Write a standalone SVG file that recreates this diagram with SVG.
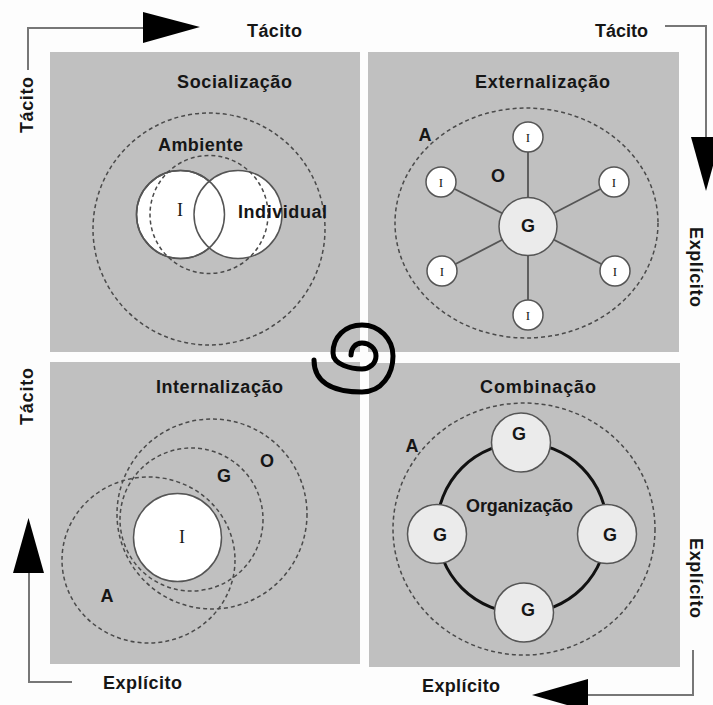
<svg xmlns="http://www.w3.org/2000/svg" width="713" height="705" viewBox="0 0 713 705">
<style>
.panel{fill:#c0c0c0}
.t{font-family:"Liberation Sans",Arial,sans-serif;font-weight:bold;font-size:18px;fill:#161616}
.m{text-anchor:middle}
.ser{font-family:"Liberation Serif","Times New Roman",serif;fill:#161616;text-anchor:middle}
.dash{fill:none;stroke:#4a4a4a;stroke-width:1.5;stroke-dasharray:4 3}
.wc{fill:#fff;stroke:#555;stroke-width:1.5}
.ol{fill:none;stroke:#555;stroke-width:1.5}
.gc{fill:#ebebeb;stroke:#555;stroke-width:1.5}
.spoke{stroke:#555;stroke-width:1.8}
.ax{fill:none;stroke:#777;stroke-width:2}
.head{fill:#000}
</style>
<rect width="713" height="705" fill="#fdfdfd"/>
<g id="panels">
<rect class="panel" x="50" y="52" width="310" height="300"/>
<rect class="panel" x="368" y="52" width="311" height="300"/>
<rect class="panel" x="50" y="362" width="310" height="302"/>
<rect class="panel" x="369" y="363" width="311" height="304"/>
</g>
<g id="socializacao">
<text class="t" x="177" y="88" textLength="115" lengthAdjust="spacing">Socialização</text>
<circle class="dash" cx="209" cy="229" r="116"/>
<circle class="wc" cx="180.5" cy="214.5" r="44"/>
<circle class="wc" cx="238" cy="214.5" r="44"/>
<circle class="ol" cx="180.5" cy="214.5" r="44"/>
<circle class="dash" cx="209" cy="214.5" r="59"/>
<text class="t" x="158" y="151" font-size="17" textLength="85" lengthAdjust="spacing">Ambiente</text>
<text class="ser" x="180" y="216" font-size="18">I</text>
<text class="t" x="238" y="218" font-size="17" textLength="89" lengthAdjust="spacing">Individual</text>
</g>
<g id="externalizacao">
<text class="t" x="475" y="88" textLength="135" lengthAdjust="spacing">Externalização</text>
<ellipse class="dash" cx="526.5" cy="223" rx="131.5" ry="115"/>
<g class="spokes">
<line class="spoke" x1="528" y1="226.5" x2="528" y2="137"/>
<line class="spoke" x1="528" y1="226.5" x2="441" y2="182"/>
<line class="spoke" x1="528" y1="226.5" x2="614" y2="182"/>
<line class="spoke" x1="528" y1="226.5" x2="442" y2="271"/>
<line class="spoke" x1="528" y1="226.5" x2="615" y2="271"/>
<line class="spoke" x1="528" y1="226.5" x2="528" y2="315"/>
</g>
<circle class="gc" cx="528" cy="226.5" r="29"/>
<text class="t m" x="528" y="232">G</text>
<g id="ext-i">
<circle class="wc" cx="528" cy="137" r="15"/><text class="ser" x="528" y="141.5" font-size="13">I</text>
<circle class="wc" cx="441" cy="182" r="15"/><text class="ser" x="441" y="186.5" font-size="13">I</text>
<circle class="wc" cx="614" cy="182" r="15"/><text class="ser" x="614" y="186.5" font-size="13">I</text>
<circle class="wc" cx="442" cy="271" r="15"/><text class="ser" x="442" y="275.5" font-size="13">I</text>
<circle class="wc" cx="615" cy="271" r="15"/><text class="ser" x="615" y="275.5" font-size="13">I</text>
<circle class="wc" cx="528" cy="315" r="15"/><text class="ser" x="528" y="319.5" font-size="13">I</text>
</g>
<text class="t m" x="425" y="141">A</text>
<text class="t m" x="498" y="182">O</text>
</g>
<g id="internalizacao">
<text class="t" x="156" y="393" textLength="127" lengthAdjust="spacing">Internalização</text>
<circle class="wc" cx="177.5" cy="537.5" r="44"/>
<circle class="dash" cx="212" cy="514" r="95"/>
<circle class="dash" cx="191.5" cy="519.5" r="71.5"/>
<ellipse class="dash" cx="148.5" cy="560" rx="86.5" ry="83"/>
<text class="ser" x="182" y="543" font-size="18">I</text>
<text class="t m" x="224" y="482">G</text>
<text class="t m" x="267" y="467">O</text>
<text class="t m" x="107" y="602">A</text>
</g>
<g id="combinacao">
<text class="t" x="480" y="393" textLength="116" lengthAdjust="spacing">Combinação</text>
<ellipse class="dash" cx="524" cy="529" rx="131" ry="126"/>
<circle cx="522" cy="528" r="85" fill="none" stroke="#111" stroke-width="3"/>
<circle class="gc" cx="521" cy="442.5" r="29.5"/>
<circle class="gc" cx="437" cy="534" r="29.5"/>
<circle class="gc" cx="607" cy="534" r="29.5"/>
<circle class="gc" cx="524" cy="612.5" r="29.5"/>
<text class="t m" x="519" y="440">G</text>
<text class="t m" x="440" y="541">G</text>
<text class="t m" x="610" y="541">G</text>
<text class="t m" x="528" y="616">G</text>
<text class="t m" x="412" y="452">A</text>
<text class="t" x="466" y="512" font-size="16" textLength="107" lengthAdjust="spacing">Organização</text>
</g>
<g id="spiral">
<path d="M351,355 C351,349 354.8,343 362,343 C369.2,343 376,348.3 376,356 C376,363.7 369.2,369 362,369 C352,369 333,365 333,353 C333,337 344.9,325 362,325 C379.1,325 393,338.9 393,356 C393,374.2 381.9,392 362,392 C339.9,392 314,386.5 314,360" fill="none" stroke="#000" stroke-width="5" stroke-linecap="round"/>
</g>
<g id="connectors">
<polyline class="ax" points="28,70 28,28 145,28"/>
<polygon class="head" points="143,12 200,27 143,43"/>
<polyline class="ax" points="665,26 706,26 706,138"/>
<polygon class="head" points="691,137 706,191 721,137"/>
<polyline class="ax" points="693,650 693,695 586,695"/>
<polygon class="head" points="588,679 532,695 588,711"/>
<polyline class="ax" points="72,682 29,682 29,572"/>
<polygon class="head" points="13,573 28.5,518 44,573"/>
</g>
<g id="axis-labels">
<text class="t" x="247" y="37" textLength="55" lengthAdjust="spacing">Tácito</text>
<text class="t" x="595" y="37" textLength="53" lengthAdjust="spacing">Tácito</text>
<text class="t" transform="translate(33,133) rotate(-90)" textLength="56" lengthAdjust="spacing">Tácito</text>
<text class="t" transform="translate(33,425) rotate(-90)" textLength="57" lengthAdjust="spacing">Tácito</text>
<text class="t" transform="translate(690,227) rotate(90)" textLength="80" lengthAdjust="spacing">Explícito</text>
<text class="t" transform="translate(690,538) rotate(90)" textLength="80" lengthAdjust="spacing">Explícito</text>
<text class="t" x="103" y="689" textLength="79" lengthAdjust="spacing">Explícito</text>
<text class="t" x="422" y="692" textLength="78" lengthAdjust="spacing">Explícito</text>
</g>
</svg>
